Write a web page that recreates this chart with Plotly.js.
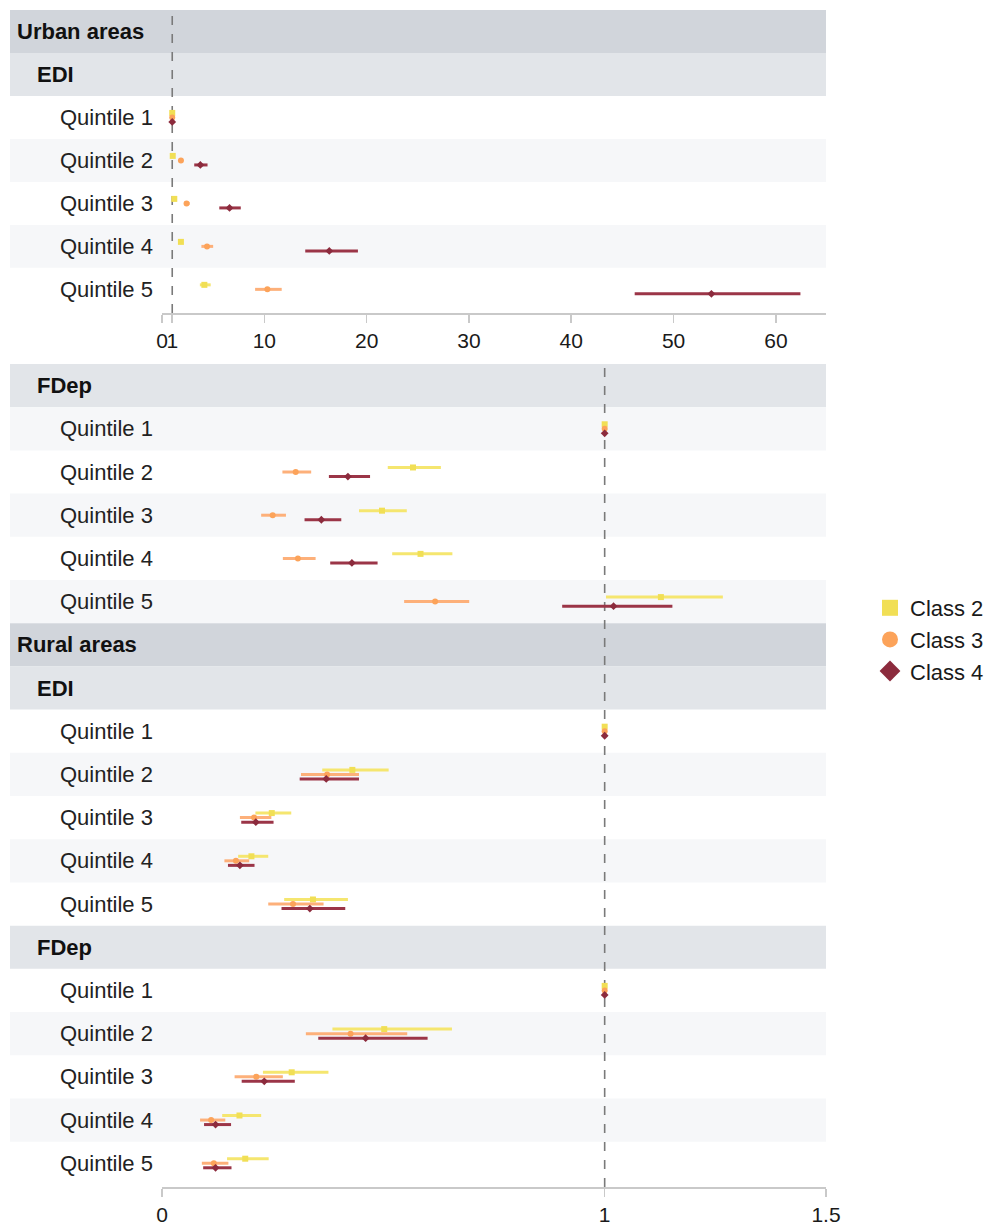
<!DOCTYPE html>
<html>
<head>
<meta charset="utf-8">
<script src="https://cdn.plot.ly/plotly-3.0.1.min.js"></script>
<style>html,body{margin:0;padding:0;background:#fff;}#chart{width:986px;height:1228px;}</style>
</head>
<body>
<div id="chart"></div>
<script>
// ---------- data ----------
const classes = ['Class 2', 'Class 3', 'Class 4'];
const quintiles = ['Quintile 1', 'Quintile 2', 'Quintile 3', 'Quintile 4', 'Quintile 5'];

// Urban areas, EDI (top axis, 0-65)
const urbanEdiC2 = [1, 1.05, 1.2, 1.85, 4.14];
const urbanEdiC2Lo = [1, 1.0, 1.05, 1.6, 3.7];
const urbanEdiC2Hi = [1, 1.1, 1.35, 2.05, 4.76];
const urbanEdiC3 = [1, 1.85, 2.4, 4.4, 10.3];
const urbanEdiC3Lo = [1, 1.65, 2.15, 3.85, 9.1];
const urbanEdiC3Hi = [1, 2.05, 2.7, 5.0, 11.7];
const urbanEdiC4 = [1, 3.75, 6.6, 16.35, 53.7];
const urbanEdiC4Lo = [1, 3.15, 5.6, 14.0, 46.2];
const urbanEdiC4Hi = [1, 4.45, 7.7, 19.15, 62.4];

// Urban areas, FDep
const urbanFdepC2 = [1, 0.567, 0.497, 0.584, 1.127];
const urbanFdepC2Lo = [1, 0.51, 0.445, 0.52, 1.003];
const urbanFdepC2Hi = [1, 0.63, 0.553, 0.656, 1.267];
const urbanFdepC3 = [1, 0.302, 0.25, 0.307, 0.617];
const urbanFdepC3Lo = [1, 0.272, 0.224, 0.273, 0.547];
const urbanFdepC3Hi = [1, 0.337, 0.28, 0.347, 0.694];
const urbanFdepC4 = [1, 0.42, 0.36, 0.429, 1.02];
const urbanFdepC4Lo = [1, 0.377, 0.322, 0.38, 0.904];
const urbanFdepC4Hi = [1, 0.47, 0.405, 0.487, 1.153];

// Rural areas, EDI
const ruralEdiC2 = [1, 0.43, 0.248, 0.202, 0.341];
const ruralEdiC2Lo = [1, 0.362, 0.211, 0.172, 0.276];
const ruralEdiC2Hi = [1, 0.512, 0.292, 0.24, 0.42];
const ruralEdiC3 = [1, 0.373, 0.208, 0.167, 0.296];
const ruralEdiC3Lo = [1, 0.314, 0.176, 0.141, 0.24];
const ruralEdiC3Hi = [1, 0.445, 0.247, 0.197, 0.365];
const ruralEdiC4 = [1, 0.371, 0.212, 0.176, 0.334];
const ruralEdiC4Lo = [1, 0.311, 0.179, 0.149, 0.27];
const ruralEdiC4Hi = [1, 0.445, 0.252, 0.209, 0.414];

// Rural areas, FDep
const ruralFdepC2 = [1, 0.502, 0.293, 0.175, 0.188];
const ruralFdepC2Lo = [1, 0.385, 0.228, 0.136, 0.147];
const ruralFdepC2Hi = [1, 0.655, 0.376, 0.224, 0.241];
const ruralFdepC3 = [1, 0.426, 0.213, 0.111, 0.117];
const ruralFdepC3Lo = [1, 0.325, 0.164, 0.086, 0.09];
const ruralFdepC3Hi = [1, 0.554, 0.273, 0.143, 0.15];
const ruralFdepC4 = [1, 0.46, 0.231, 0.121, 0.121];
const ruralFdepC4Lo = [1, 0.353, 0.18, 0.095, 0.093];
const ruralFdepC4Hi = [1, 0.6, 0.3, 0.156, 0.157];

const topTickVals = [0, 1, 10, 20, 30, 40, 50, 60];
const topTickText = ['0', '1', '10', '20', '30', '40', '50', '60'];
const botTickVals = [0, 1, 1.5];
const botTickText = ['0', '1', '1.5'];

// ---------- styling ----------
const FONT = '"Liberation Sans", Arial, Helvetica, sans-serif';
const markerColors = ['#f1df55', '#fca35a', '#8c2b3d'];
const barColors = ['#f5e66f', '#fdb07a', '#9b3547'];
const symbols = ['square', 'circle', 'diamond'];
const sizes = [6, 6, 6];
const offsets = [-0.105, 0, 0.105];

const HEADER = '#d1d5db', SUB = '#e2e5e9', LIGHT = '#f6f7f9';

const topRows = [
  {label: 'Urban areas', kind: 'h'}, {label: 'EDI', kind: 's'},
  ...quintiles.map((q, i) => ({label: q, kind: 'q', fill: i % 2 === 1 ? LIGHT : null}))
];
const botRows = [
  {label: 'FDep', kind: 's'},
  ...quintiles.map((q, i) => ({label: q, kind: 'q', fill: i % 2 === 0 ? LIGHT : null})),
  {label: 'Rural areas', kind: 'h'}, {label: 'EDI', kind: 's'},
  ...quintiles.map((q, i) => ({label: q, kind: 'q', fill: i % 2 === 1 ? LIGHT : null})),
  {label: 'FDep', kind: 's'},
  ...quintiles.map((q, i) => ({label: q, kind: 'q', fill: i % 2 === 1 ? LIGHT : null}))
];

const topQRows = [2, 3, 4, 5, 6];
const botGroups = [
  {rows: [1, 2, 3, 4, 5], data: [[urbanFdepC2, urbanFdepC2Lo, urbanFdepC2Hi], [urbanFdepC3, urbanFdepC3Lo, urbanFdepC3Hi], [urbanFdepC4, urbanFdepC4Lo, urbanFdepC4Hi]]},
  {rows: [8, 9, 10, 11, 12], data: [[ruralEdiC2, ruralEdiC2Lo, ruralEdiC2Hi], [ruralEdiC3, ruralEdiC3Lo, ruralEdiC3Hi], [ruralEdiC4, ruralEdiC4Lo, ruralEdiC4Hi]]},
  {rows: [14, 15, 16, 17, 18], data: [[ruralFdepC2, ruralFdepC2Lo, ruralFdepC2Hi], [ruralFdepC3, ruralFdepC3Lo, ruralFdepC3Hi], [ruralFdepC4, ruralFdepC4Lo, ruralFdepC4Hi]]}
];
const topData = [[urbanEdiC2, urbanEdiC2Lo, urbanEdiC2Hi], [urbanEdiC3, urbanEdiC3Lo, urbanEdiC3Hi], [urbanEdiC4, urbanEdiC4Lo, urbanEdiC4Hi]];

function traceFor(ci, xs, los, his, ys, xa, ya) {
  return {
    type: 'scatter', mode: 'markers', x: xs, y: ys, xaxis: xa, yaxis: ya,
    showlegend: false, hoverinfo: 'x',
    marker: {symbol: symbols[ci], size: sizes[ci], color: markerColors[ci]},
    error_x: {type: 'data', symmetric: false,
      array: xs.map((v, i) => his[i] - v), arrayminus: xs.map((v, i) => v - los[i]),
      color: barColors[ci], thickness: 3, width: 0}
  };
}

const traces = [];
for (let ci = 0; ci < 3; ci++) {
  const [v, lo, hi] = topData[ci];
  traces.push(traceFor(ci, v, lo, hi, topQRows.map(r => r + offsets[ci]), 'x', 'y'));
  let xs = [], los = [], his = [], ys = [];
  botGroups.forEach(g => {
    const [gv, glo, ghi] = g.data[ci];
    xs = xs.concat(gv); los = los.concat(glo); his = his.concat(ghi);
    ys = ys.concat(g.rows.map(r => r + offsets[ci]));
  });
  traces.push(traceFor(ci, xs, los, his, ys, 'x2', 'y2'));
}
for (let ci = 0; ci < 3; ci++) {
  traces.push({type: 'scatter', mode: 'markers', x: [null], y: [null], xaxis: 'x2', yaxis: 'y2',
    name: classes[ci], showlegend: true,
    marker: {symbol: symbols[ci], size: 16, color: markerColors[ci]}});
}

// ---------- layout geometry ----------
const W = 986, H = 1228;
const plotL = 162, plotR = 826, plotT = 10, plotB = 1187;
const pw = plotR - plotL, ph = plotB - plotT;
const px2paperX = p => (p - plotL) / pw;
const py2paperY = p => (plotB - p) / ph;

const shapes = [];
const annotations = [];
function addRows(rows, yref) {
  rows.forEach((r, i) => {
    const fill = r.kind === 'h' ? HEADER : r.kind === 's' ? SUB : r.fill;
    if (fill) {
      shapes.push({type: 'rect', xref: 'paper', yref: yref, x0: px2paperX(10), x1: 1,
        y0: i - 0.5, y1: i + 0.5, fillcolor: fill, line: {width: 0}, layer: 'below'});
    }
    if (r.kind === 'h') {
      annotations.push({xref: 'paper', yref: yref, x: px2paperX(15), y: i, xanchor: 'left', yanchor: 'middle',
        text: '<b>' + r.label + '</b>', showarrow: false, font: {family: FONT, size: 22, color: '#111'}});
    } else if (r.kind === 's') {
      annotations.push({xref: 'paper', yref: yref, x: px2paperX(35), y: i, xanchor: 'left', yanchor: 'middle',
        text: '<b>' + r.label + '</b>', showarrow: false, font: {family: FONT, size: 22, color: '#111'}});
    } else {
      annotations.push({xref: 'paper', yref: yref, x: px2paperX(155), y: i, xanchor: 'right', yanchor: 'middle',
        text: r.label, showarrow: false, font: {family: FONT, size: 22, color: '#222'}});
    }
  });
}
addRows(topRows, 'y');
addRows(botRows, 'y2');

shapes.push({type: 'line', xref: 'x', yref: 'y domain', x0: 1, x1: 1, y0: 0, y1: 1,
  line: {color: '#7a7a7a', width: 1.6, dash: 'dash'}, layer: 'below'});
shapes.push({type: 'line', xref: 'x2', yref: 'y2 domain', x0: 1, x1: 1, y0: 0, y1: 1,
  line: {color: '#7a7a7a', width: 1.6, dash: 'dash'}, layer: 'below'});

const xAxisCommon = {showgrid: false, zeroline: false, showline: true, linecolor: '#c9c9c9', linewidth: 1.5,
  ticks: 'outside', ticklen: 8, tickwidth: 1.5, tickcolor: '#c9c9c9', tickangle: 0, automargin: false,
  tickfont: {family: FONT, size: 21, color: '#1a1a1a'}, fixedrange: true};
const yAxisCommon = {showgrid: false, zeroline: false, showline: false, showticklabels: false, ticks: '', fixedrange: true, automargin: false};

const layout = {
  width: W, height: H,
  margin: {l: plotL, r: W - plotR, t: plotT, b: H - plotB, pad: 0, autoexpand: false},
  paper_bgcolor: '#ffffff', plot_bgcolor: 'rgba(0,0,0,0)',
  font: {family: FONT, size: 22, color: '#222'},
  xaxis: Object.assign({}, xAxisCommon, {domain: [0, 1], anchor: 'y', range: [0, 64.9],
    tickmode: 'array', tickvals: topTickVals, ticktext: topTickText}),
  yaxis: Object.assign({}, yAxisCommon, {domain: [py2paperY(313), 1], anchor: 'x', range: [6.55, -0.5]}),
  xaxis2: Object.assign({}, xAxisCommon, {domain: [0, 1], anchor: 'y2', range: [0, 1.5],
    tickmode: 'array', tickvals: botTickVals, ticktext: botTickText}),
  yaxis2: Object.assign({}, yAxisCommon, {domain: [0, py2paperY(364)], anchor: 'x2', range: [18.55, -0.5]}),
  shapes: shapes,
  annotations: annotations,
  showlegend: true,
  legend: {x: px2paperX(870), y: py2paperY(587), xanchor: 'left', yanchor: 'top',
    font: {family: FONT, size: 22, color: '#1a1a1a'}, bgcolor: 'rgba(0,0,0,0)', borderwidth: 0,
    itemwidth: 30, tracegroupgap: 0}
};

Plotly.newPlot('chart', traces, layout, {displayModeBar: false, staticPlot: true});
</script>
</body>
</html>
